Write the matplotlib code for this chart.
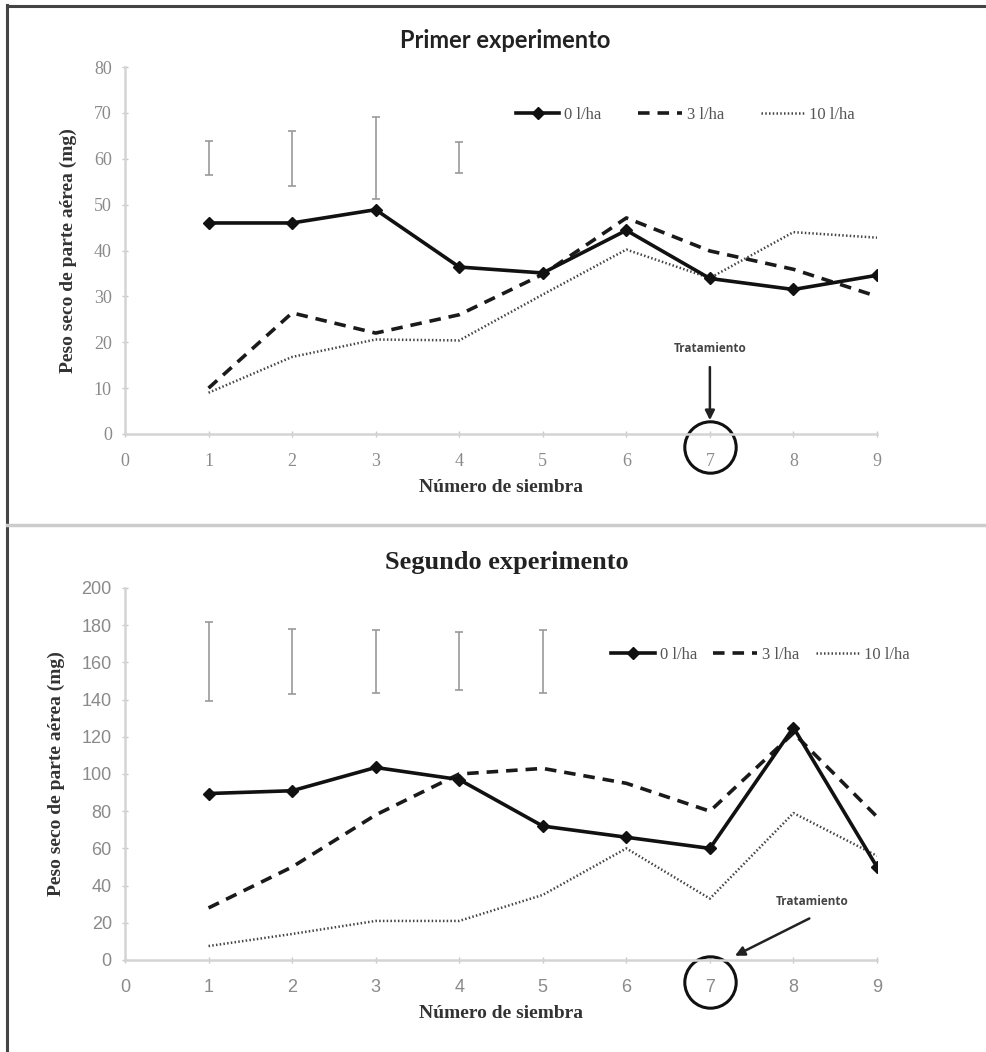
import matplotlib
matplotlib.use("Agg")
import matplotlib.pyplot as plt
from matplotlib.lines import Line2D

# ── Data ──
siembra = [1, 2, 3, 4, 5, 6, 7, 8, 9]

# Primer experimento
p_0 = [46, 46, 48.9, 36.4, 35.1, 44.4, 33.9, 31.5, 34.6]
p_3 = [10, 26.4, 22, 26, 34.8, 47.1, 39.9, 35.9, 30]
p_10 = [9, 16.8, 20.6, 20.4, 30.4, 40.2, 34, 44, 42.8]
p_err_x = [1, 2, 3, 4]
p_err_low = [56.4, 54, 51.3, 56.9]
p_err_high = [63.9, 66.1, 69.2, 63.6]

# Segundo experimento
s_0 = [89.5, 91, 103.5, 97, 72, 66, 60, 125, 50]
s_3 = [28, 50, 78, 100, 103, 95, 80, 122, 77]
s_10 = [7.5, 14, 21, 21, 35, 60, 33, 79, 56]
s_err_x = [1, 2, 3, 4, 5]
s_err_low = [139, 143, 143.5, 145, 143.5]
s_err_high = [181.5, 178, 177.5, 176.5, 177.5]

labels = ['0 l/ha', '3 l/ha', '10 l/ha']

W, H = 987, 1052
fig = plt.figure(figsize=(W / 100, H / 100), dpi=100)

SERIF = 'Liberation Serif'
SANS = 'Liberation Sans'
GRAY = '#8a8a8a'


def panel(ax, y0, y3, y10, ex, elo, ehi, ymax, ystep, tick_font, legend_xy, colsp):
    ax.plot(siembra, y3, color='#1a1a1a', lw=2.6, ls=(0, (3.2, 2.2)), label=labels[1], zorder=3)
    ax.plot(siembra, y10, color='#444444', lw=1.8, ls=(0, (0.6, 0.9)), label=labels[2], zorder=3)
    ax.plot(siembra, y0, color='#111111', lw=2.6, marker='D', ms=6, label=labels[0], zorder=4)
    mids = [(lo + hi) / 2 for lo, hi in zip(elo, ehi)]
    half = [(hi - lo) / 2 for lo, hi in zip(elo, ehi)]
    ax.errorbar(ex, mids, yerr=half, fmt='none', ecolor='#9a9a9a', elinewidth=1.2,
                capsize=3, capthick=1.2)

    ax.set_xlim(0, 9)
    ax.set_ylim(0, ymax)
    ax.set_xticks(range(0, 10))
    ax.set_yticks(range(0, ymax + 1, ystep))
    for s in ['top', 'right']:
        ax.spines[s].set_visible(False)
    for s in ['left', 'bottom']:
        ax.spines[s].set_color('#d4d4d4')
        ax.spines[s].set_linewidth(1.8)
    ax.tick_params(axis='both', colors='#c8c8c8', direction='inout', length=5, width=1,
                   labelcolor=GRAY, labelsize=13)
    ax.tick_params(axis='x', pad=11)
    ax.tick_params(axis='y', pad=7)
    for t in ax.get_xticklabels() + ax.get_yticklabels():
        t.set_fontfamily(tick_font)

    ax.set_ylabel('Peso seco de parte aérea (mg)', family=SERIF, fontweight='bold',
                  fontsize=14, color='#333333', labelpad=12)
    ax.set_xlabel('Número de siembra', family=SERIF, fontweight='bold',
                  fontsize=14, color='#333333', labelpad=7)

    handles, labs = ax.get_legend_handles_labels()
    order = [labs.index(l) for l in labels]
    ax.legend([handles[i] for i in order], [labs[i] for i in order],
              loc='center', bbox_to_anchor=legend_xy, ncol=3, frameon=False,
              handlelength=2.6, handletextpad=0.3, columnspacing=colsp,
              prop={'family': SERIF, 'size': 12}, labelcolor='#555555')


# ── Top panel ──
ax1 = fig.add_axes([125 / W, 1 - 434 / H, 752 / W, 367 / H])
panel(ax1, p_0, p_3, p_10, p_err_x, p_err_low, p_err_high, 80, 10, SERIF, (0.745, 0.87), 2.2)
fig.text(505 / W, 1 - 40 / H, 'Primer experimento', ha='center', va='center',
         family='Lato', fontweight='bold', fontsize=17, color='#222222')

trans1 = ax1.get_xaxis_transform()
ax1.text(7, 0.232, 'Tratamiento', transform=trans1, ha='center', va='center',
         family='Open Sans', fontweight='bold', fontsize=8.5, color='#444444')
ax1.annotate('', xy=(7, 0.03), xycoords=trans1, xytext=(7, 0.19), textcoords=trans1,
             arrowprops=dict(arrowstyle='-|>', color='#222222', lw=1.8, mutation_scale=14))
ax1.plot([7], [-0.036], transform=trans1, marker='o', ms=37, mfc='none', mec='#111111',
         mew=2.2, clip_on=False)

# ── Bottom panel ──
ax2 = fig.add_axes([125 / W, 1 - 960 / H, 752 / W, 372 / H])
panel(ax2, s_0, s_3, s_10, s_err_x, s_err_low, s_err_high, 200, 20, SANS, (0.845, 0.82), 1.0)
fig.text(507 / W, 1 - 562 / H, 'Segundo experimento', ha='center', va='center',
         family=SERIF, fontweight='bold', fontsize=19, color='#222222')

trans2 = ax2.get_xaxis_transform()
ax2.text(8.22, 0.157, 'Tratamiento', transform=trans2, ha='center', va='center',
         family='Open Sans', fontweight='bold', fontsize=8.5, color='#444444')
ax2.annotate('', xy=(7.27, 0.008), xycoords=trans2, xytext=(8.22, 0.115), textcoords=trans2,
             arrowprops=dict(arrowstyle='-|>', color='#222222', lw=1.8, mutation_scale=14))
ax2.plot([7], [-0.059], transform=trans2, marker='o', ms=37, mfc='none', mec='#111111',
         mew=2.2, clip_on=False)

# ── Frame lines ──
fig.add_artist(Line2D([7 / W, 7 / W], [0, 1 - 5 / H], color='#444444', lw=2.2))
fig.add_artist(Line2D([7 / W, 1], [1 - 6 / H, 1 - 6 / H], color='#444444', lw=2.2))
fig.add_artist(Line2D([7 / W, 1], [1 - 525 / H, 1 - 525 / H], color='#cccccc', lw=2.5))

fig.savefig('out.png', dpi=100)
